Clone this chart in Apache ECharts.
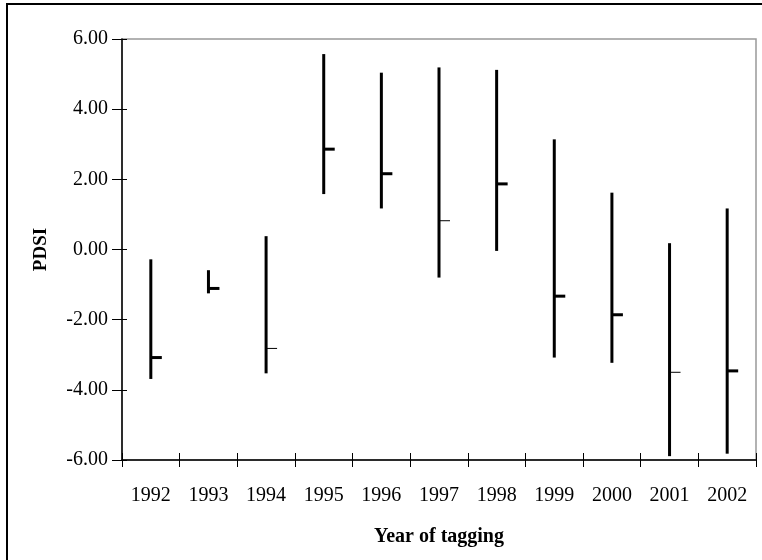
<!DOCTYPE html>
<html><head><meta charset="utf-8">
<script src="https://cdn.jsdelivr.net/npm/echarts@6/dist/echarts.min.js"></script>
<style>html,body{margin:0;padding:0;background:#fff}#c{width:762px;height:560px}</style>
</head><body><div id="c"></div>
<script>
const years = ['1992','1993','1994','1995','1996','1997','1998','1999','2000','2001','2002'];
const highs = [-0.28, -0.59, 0.38, 5.57, 5.04, 5.19, 5.12, 3.14, 1.62, 0.18, 1.17];
const lows  = [-3.69, -1.25, -3.53, 1.58, 1.17, -0.80, -0.04, -3.08, -3.23, -5.89, -5.82];
const closes= [-3.08, -1.11, -2.82, 2.86, 2.16, 0.82, 1.87, -1.33, -1.86, -3.50, -3.46];
// style only: close-tick thickness per year
const tickWidths = [3,3,1,3,3,1,3,3,3,1,3];

const font = '"Liberation Serif","Times New Roman",serif';
const chart = echarts.init(document.getElementById('c'));
const data = years.map((y,i)=>[i, lows[i], highs[i], closes[i]]);
const axisBase = { type:'category', data: years, boundaryGap:true };
chart.setOption({
  animation:false,
  graphic:[{type:'rect', shape:{x:7,y:4,width:800,height:600}, style:{fill:'none', stroke:'#000', lineWidth:2}, silent:true}],
  grid:{left:122, right:6, top:39, bottom:100, show:true, borderColor:'#999', borderWidth:1.5},
  xAxis:[
    Object.assign({}, axisBase, {
      axisLine:{onZero:false, lineStyle:{color:'#000', width:1.5}},
      axisTick:{show:true, length:7, lineStyle:{color:'#000'}},
      axisLabel:{color:'#000', fontFamily:font, fontSize:20, margin:26},
      name:'Year of tagging', nameLocation:'middle', nameGap:67,
      nameTextStyle:{color:'#000', fontFamily:font, fontSize:20, fontWeight:'bold'}
    }),
    Object.assign({}, axisBase, {position:'bottom',
      axisLine:{show:false, onZero:false}, axisTick:{show:true, inside:true, length:7, lineStyle:{color:'#000'}},
      axisLabel:{show:false}})
  ],
  yAxis:[
    {type:'value', min:-6, max:6, interval:2,
     axisLine:{show:true, lineStyle:{color:'#000', width:1.5}},
     axisTick:{show:true, length:10, lineStyle:{color:'#000'}},
     splitLine:{show:false},
     axisLabel:{color:'#000', fontFamily:font, fontSize:20, margin:14, formatter:v=>v.toFixed(2)},
     name:'PDSI', nameLocation:'middle', nameGap:71, nameRotate:90,
     nameTextStyle:{color:'#000', fontFamily:font, fontSize:19, fontWeight:'bold'}},
    {type:'value', min:-6, max:6, interval:2, position:'left',
     axisLine:{show:false}, axisTick:{show:true, inside:true, length:5, lineStyle:{color:'#000'}},
     splitLine:{show:false}, axisLabel:{show:false}}
  ],
  series:[{
    type:'custom', xAxisIndex:0, yAxisIndex:0, data:data,
    encode:{x:0, y:[1,2,3]},
    renderItem:function(params, api){
      const i = api.value(0);
      const lo = api.coord([i, api.value(1)]);
      const hi = api.coord([i, api.value(2)]);
      const cl = api.coord([i, api.value(3)]);
      const tw = tickWidths[params.dataIndex];
      return {type:'group', children:[
        {type:'line', shape:{x1:lo[0], y1:lo[1], x2:hi[0], y2:hi[1]}, style:{stroke:'#000', lineWidth:3}},
        {type:'line', shape:{x1:cl[0], y1:cl[1], x2:cl[0]+11, y2:cl[1]}, style:{stroke:'#000', lineWidth:tw}}
      ]};
    }
  }]
});
</script></body></html>
